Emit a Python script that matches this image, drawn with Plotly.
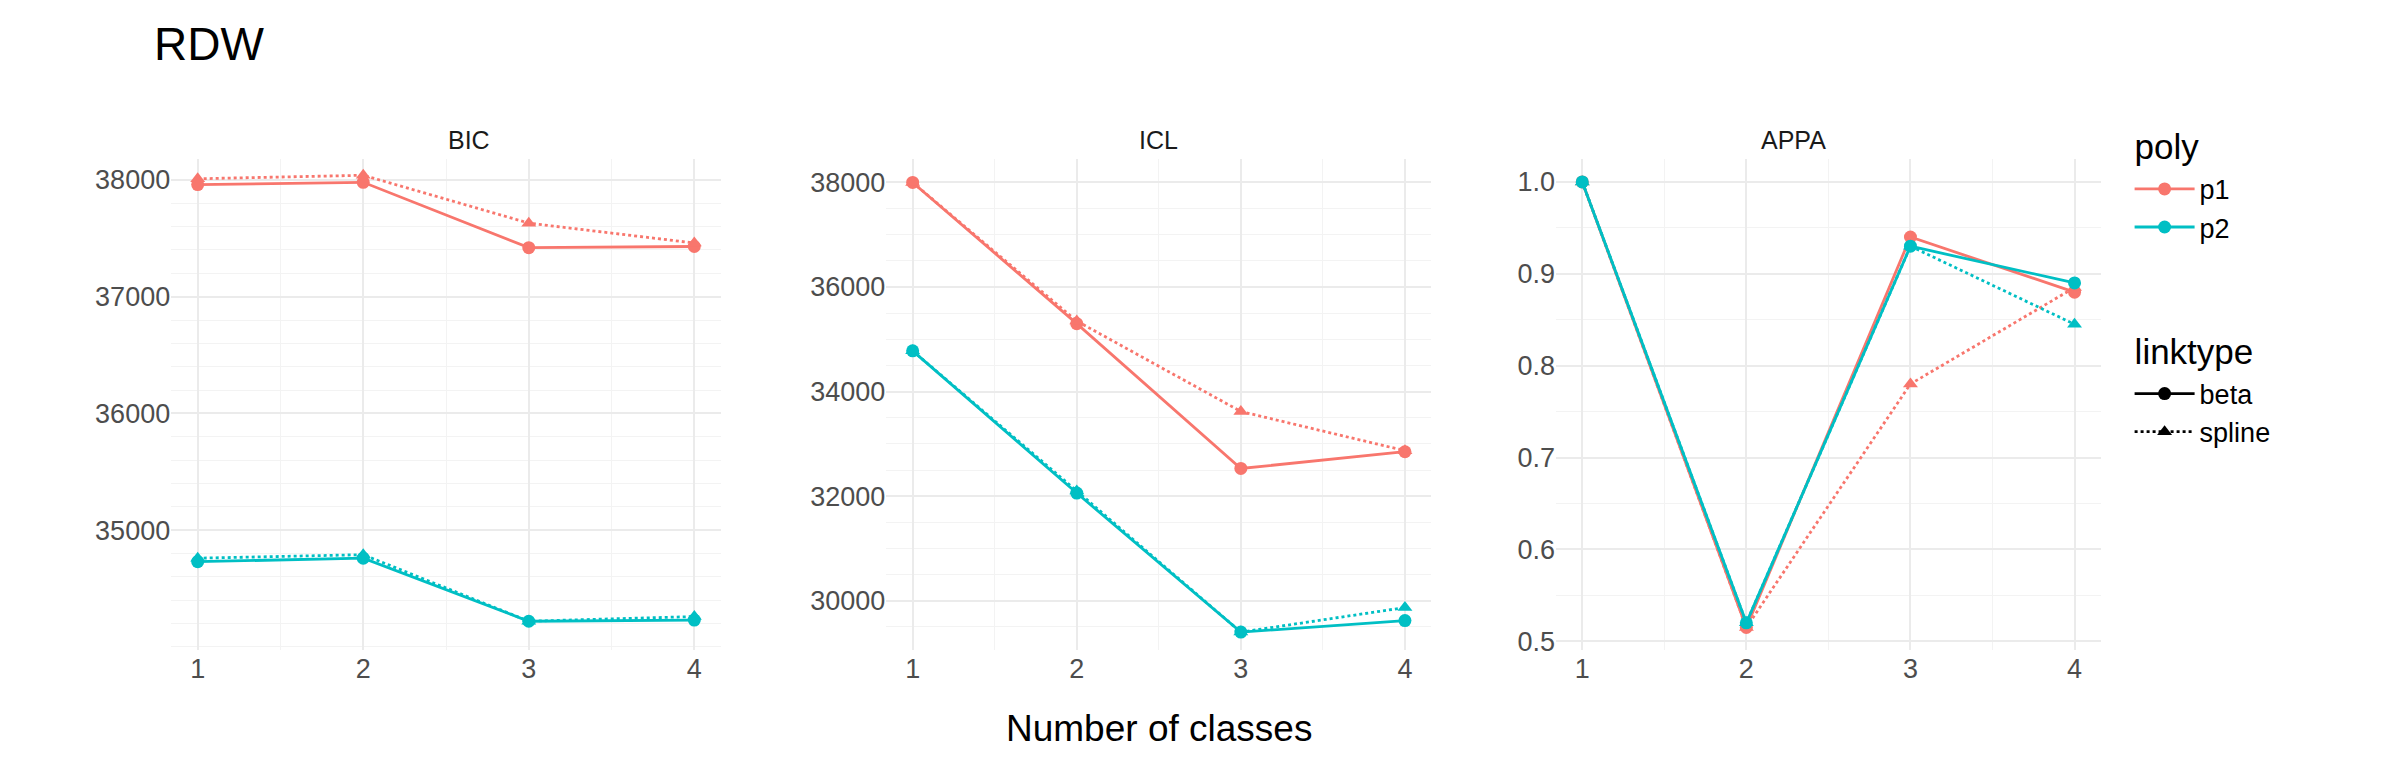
import plotly.graph_objects as go

classes = [1, 2, 3, 4]
panels = ["BIC", "ICL", "APPA"]
values = {
    "BIC": {
        ("p1", "beta"): [37960, 37980, 37420, 37430],
        ("p1", "spline"): [38010, 38040, 37630, 37460],
        ("p2", "beta"): [34730, 34760, 34220, 34230],
        ("p2", "spline"): [34760, 34790, 34220, 34260],
    },
    "ICL": {
        ("p1", "beta"): [38000, 35300, 32530, 32850],
        ("p1", "spline"): [38000, 35350, 33620, 32870],
        ("p2", "beta"): [34780, 32060, 29400, 29620],
        ("p2", "spline"): [34780, 32100, 29400, 29870],
    },
    "APPA": {
        ("p1", "beta"): [1.0, 0.515, 0.94, 0.88],
        ("p1", "spline"): [1.0, 0.515, 0.78, 0.885],
        ("p2", "beta"): [1.0, 0.52, 0.93, 0.89],
        ("p2", "spline"): [1.0, 0.52, 0.93, 0.845],
    },
}
yticks = {
    "BIC": [35000, 36000, 37000, 38000],
    "ICL": [30000, 32000, 34000, 36000, 38000],
    "APPA": [0.5, 0.6, 0.7, 0.8, 0.9, 1.0],
}
yranges = {"BIC": [33970, 38180], "ICL": [29050, 38450], "APPA": [0.49, 1.025]}
colors = {"p1": "#F8766D", "p2": "#00BFC4"}
dashes = {"beta": "solid", "spline": "dot"}
symbols = {"beta": "circle", "spline": "triangle-up"}

xdomains = [[0.068, 0.297], [0.366, 0.593], [0.645, 0.872]]
ydomain = [0.17, 0.805]

fig = go.Figure()
for i, p in enumerate(panels):
    ax = "" if i == 0 else str(i + 1)
    for (poly, link), ys in values[p].items():
        fig.add_trace(go.Scatter(
            x=classes, y=ys, mode="lines+markers", xaxis="x" + ax, yaxis="y" + ax,
            line=dict(color=colors[poly], dash=dashes[link], width=2.8),
            marker=dict(color=colors[poly], symbol=symbols[link], size=13),
            showlegend=False))
    common = dict(showgrid=True, gridcolor="#EBEBEB", gridwidth=2, zeroline=False,
                  tickfont=dict(size=27, color="#4D4D4D"), ticks="", showline=False)
    fig.update_layout(**{
        "xaxis" + ax: dict(domain=xdomains[i], range=[0.84, 4.16], tickvals=classes,
                           minor=dict(dtick=0.5, tick0=0.5, showgrid=True, gridcolor="#F3F3F3", gridwidth=1),
                           anchor="y" + ax, **common),
        "yaxis" + ax: dict(domain=ydomain, range=yranges[p], tickvals=yticks[p],
                           tickformat=".1f" if p == "APPA" else "d",
                           minor=dict(showgrid=True, gridcolor="#F3F3F3", gridwidth=1),
                           anchor="x" + ax, **common),
    })
    fig.add_annotation(x=sum(xdomains[i]) / 2, y=0.85, xref="paper", yref="paper",
                       text=p, showarrow=False, font=dict(size=25, color="#1A1A1A"))

# legend entries
for poly in ["p1", "p2"]:
    fig.add_trace(go.Scatter(x=[None], y=[None], mode="lines+markers", name=poly,
                             line=dict(color=colors[poly], width=2.8),
                             marker=dict(color=colors[poly], size=13),
                             legendgroup="poly", legendgrouptitle=dict(text="poly", font=dict(size=35))))
for link in ["beta", "spline"]:
    fig.add_trace(go.Scatter(x=[None], y=[None], mode="lines+markers", name=link,
                             line=dict(color="black", width=2.8, dash=dashes[link]),
                             marker=dict(color="black", symbol=symbols[link], size=13),
                             legendgroup="link", legendgrouptitle=dict(text="linktype", font=dict(size=35))))

fig.add_annotation(x=0.060, y=0.99, xref="paper", yref="paper", text="RDW", showarrow=False,
                   xanchor="left", yanchor="top", font=dict(size=46, color="black"))
fig.add_annotation(x=sum(xdomains[1]) / 2, y=0.04, xref="paper", yref="paper",
                   text="Number of classes", showarrow=False, font=dict(size=37, color="black"))

fig.update_layout(width=2400, height=780, plot_bgcolor="white", paper_bgcolor="white",
                  margin=dict(l=0, r=0, t=0, b=0),
                  font=dict(family="Liberation Sans, Arial, sans-serif", color="black"),
                  legend=dict(x=0.884, y=0.86, xanchor="left", yanchor="top",
                              font=dict(size=27), tracegroupgap=80, itemwidth=60,
                              groupclick="toggleitem"))
fig.write_html("out.html")
